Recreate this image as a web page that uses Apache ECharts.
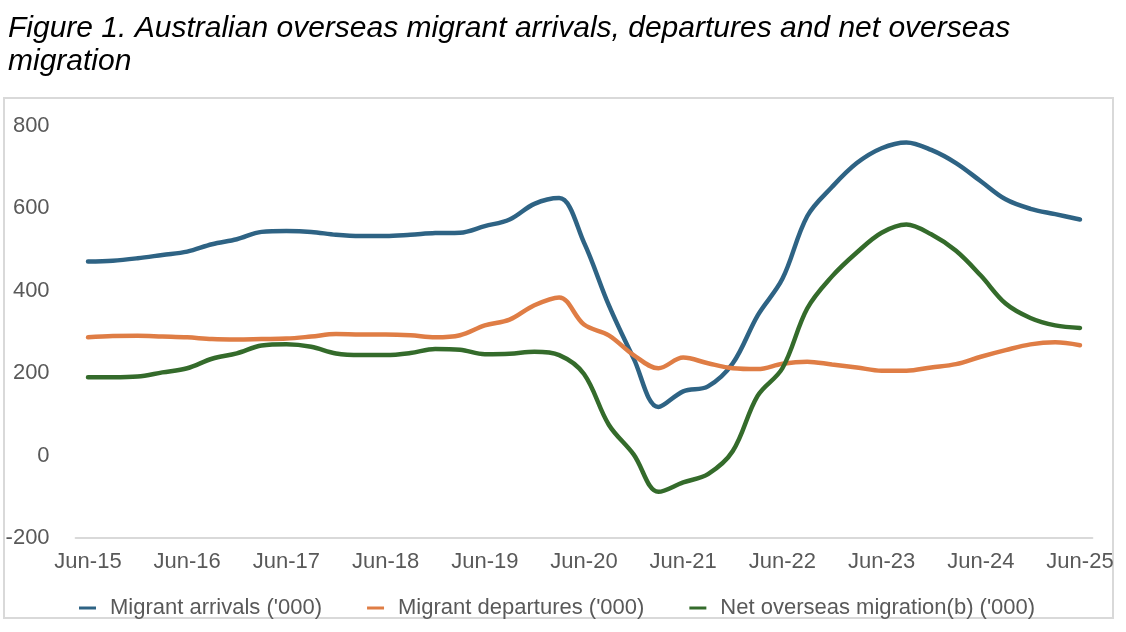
<!DOCTYPE html>
<html>
<head>
<meta charset="utf-8">
<script src="https://cdn.jsdelivr.net/npm/echarts@6/dist/echarts.min.js"></script>
<style>
  html, body { margin: 0; padding: 0; background: #fff; }
  #chart { width: 1126px; height: 632px; }
</style>
</head>
<body>
<div id="chart"></div>
<script>
// quarterly, Jun-15 .. Jun-25
const categories = [
  'Jun-15', 'Sep-15', 'Dec-15', 'Mar-16',
  'Jun-16', 'Sep-16', 'Dec-16', 'Mar-17',
  'Jun-17', 'Sep-17', 'Dec-17', 'Mar-18',
  'Jun-18', 'Sep-18', 'Dec-18', 'Mar-19',
  'Jun-19', 'Sep-19', 'Dec-19', 'Mar-20',
  'Jun-20', 'Sep-20', 'Dec-20', 'Mar-21',
  'Jun-21', 'Sep-21', 'Dec-21', 'Mar-22',
  'Jun-22', 'Sep-22', 'Dec-22', 'Mar-23',
  'Jun-23', 'Sep-23', 'Dec-23', 'Mar-24',
  'Jun-24', 'Sep-24', 'Dec-24', 'Mar-25',
  'Jun-25'
];
const arrivals = [
  471, 473, 479, 487, 495, 513, 525, 543, 545, 543,
  536, 533, 533, 536, 540, 541, 557, 573, 611, 625,
  517, 365, 236, 118, 156, 168, 224, 340, 429, 581,
  652, 710, 746, 760, 742, 710, 666, 622, 599, 586,
  573
];
const departures = [
  287, 290, 291, 289, 287, 283, 282, 283, 284, 289,
  295, 294, 294, 292, 287, 292, 316, 330, 365, 384,
  318, 292, 244, 212, 238, 224, 212, 210, 223, 228,
  221, 214, 206, 206, 214, 222, 240, 256, 270, 275,
  268
];
const netMigration = [
  190, 190, 192, 202, 212, 235, 248, 267, 270, 264,
  248, 244, 244, 249, 259, 257, 246, 247, 252, 244,
  198, 75, 3, -88, -65, -45, 11, 145, 212, 357,
  435, 493, 541, 561, 537, 497, 437, 369, 334, 316,
  310
];
const seriesNames = ["Migrant arrivals ('000)", "Migrant departures ('000)", "Net overseas migration(b) ('000)"];
const yTicks = { min: -200, max: 800, step: 200 };

const font = 'Liberation Sans, Arial, sans-serif';
const chart = echarts.init(document.getElementById('chart'));

function lineSeries(name, data, color) {
  return {
    name: name,
    type: 'line',
    data: data,
    smooth: 0.35,
    showSymbol: false,
    symbol: 'none',
    lineStyle: { width: 4.5, color: color, cap: 'round' },
    itemStyle: { color: color }
  };
}

const option = {
  animation: false,
  textStyle: { fontFamily: font },
  title: {
    text: 'Figure 1. Australian overseas migrant arrivals, departures and net overseas\nmigration',
    left: 8,
    top: 12,
    padding: 0,
    textStyle: {
      fontFamily: font,
      fontStyle: 'italic',
      fontWeight: 'normal',
      fontSize: 30,
      lineHeight: 33,
      color: '#000'
    }
  },
  graphic: [{
    type: 'rect',
    shape: { x: 4, y: 98, width: 1109, height: 520 },
    style: { fill: 'none', stroke: '#d9d9d9', lineWidth: 2 },
    silent: true
  }],
  legend: {
    data: seriesNames,
    left: 79,
    top: 597,
    padding: 0,
    icon: 'rect',
    itemWidth: 17,
    itemHeight: 3,
    itemGap: 45,
    textStyle: {
      fontFamily: font,
      fontSize: 22,
      color: '#595959',
      padding: [0, 0, 0, 9]
    }
  },
  grid: { left: 75.6, right: 33.6, top: 126, bottom: 94 },
  xAxis: {
    type: 'category',
    data: categories,
    boundaryGap: true,
    axisLine: { onZero: false, lineStyle: { color: '#d9d9d9', width: 2 } },
    axisTick: { show: false },
    axisLabel: {
      interval: 3,
      margin: 13,
      fontFamily: font,
      fontSize: 22,
      color: '#595959'
    }
  },
  yAxis: {
    type: 'value',
    min: yTicks.min,
    max: yTicks.max,
    interval: yTicks.step,
    axisLine: { show: false },
    axisTick: { show: false },
    splitLine: { show: false },
    axisLabel: {
      margin: 26,
      fontFamily: font,
      fontSize: 22,
      color: '#595959'
    }
  },
  series: [
    lineSeries(seriesNames[0], arrivals, '#2e6384'),
    lineSeries(seriesNames[1], departures, '#df7d45'),
    lineSeries(seriesNames[2], netMigration, '#346b2b')
  ]
};
chart.setOption(option);
</script>
</body>
</html>
